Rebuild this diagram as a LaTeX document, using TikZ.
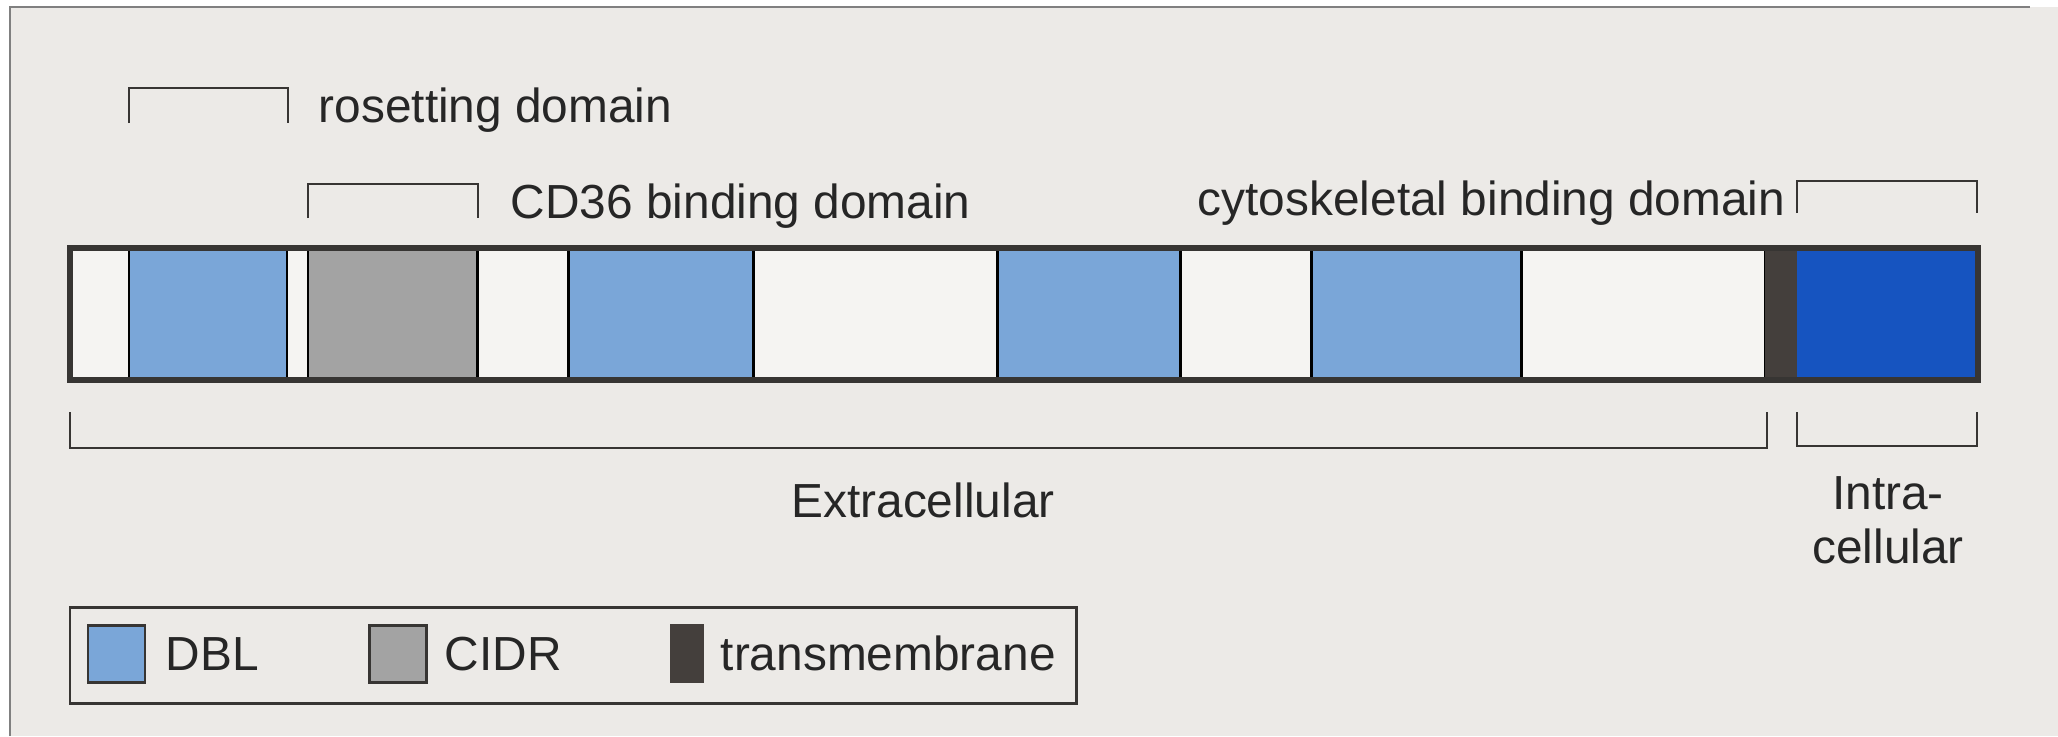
\documentclass[tikz,border=0pt]{standalone}
\usepackage{fontspec}
\setmainfont{Liberation Sans}
\usepackage{xcolor}
\definecolor{pfblue}{RGB}{122,166,216}
\definecolor{pfgray}{RGB}{163,163,163}
\definecolor{pfdark}{RGB}{68,63,60}
\definecolor{pfdeep}{RGB}{22,84,192}
\definecolor{pfwhite}{RGB}{245,244,242}
\definecolor{pfpaper}{RGB}{236,234,231}
\definecolor{pfline}{RGB}{55,53,51}
\usetikzlibrary{positioning}

\begin{document}
\begin{tikzpicture}[x=0.01cm, y=-0.01cm,
    seg/.style={draw=black, line width=0.85pt},
    barline/.style={draw=pfline, line width=1.6pt},
    brk/.style={draw=pfline, line width=0.7pt},
    lbl/.style={inner sep=0pt, text=black!85, font=\fontsize{13.6pt}{16pt}\selectfont},
    swatch/.style={draw=pfline, line width=0.85pt}
  ]
    \useasboundingbox (0,0) rectangle (2058,736);
    % Scanned page
    \fill[pfpaper] (0,0) rectangle (2058,736);
    \fill[white] (0,0) rectangle (2058,7);
    \fill[white] (0,0) rectangle (10,736);
    \draw[gray, line width=0.6pt] (10,736) -- (10,7) -- (2030,7);

    % Protein bar segments
    \draw[seg, fill=pfwhite] (70,248)   rectangle (129,380);
    \draw[seg, fill=pfblue]  (129,248)  rectangle (287,380);
    \draw[seg, fill=pfwhite] (287,248)  rectangle (308,380);
    \draw[seg, fill=pfgray]  (308,248)  rectangle (477,380);
    \draw[seg, fill=pfwhite] (477,248)  rectangle (568,380);
    \draw[seg, fill=pfblue]  (568,248)  rectangle (753,380);
    \draw[seg, fill=pfwhite] (753,248)  rectangle (997,380);
    \draw[seg, fill=pfblue]  (997,248)  rectangle (1180,380);
    \draw[seg, fill=pfwhite] (1180,248) rectangle (1311,380);
    \draw[seg, fill=pfblue]  (1311,248) rectangle (1521,380);
    \draw[seg, fill=pfwhite] (1521,248) rectangle (1765,380);
    \fill[pfdark]            (1765,248) rectangle (1797,380);
    \fill[pfdeep]            (1797,248) rectangle (1978,380);
    \draw[barline] (70,248) rectangle (1978,380);

    % Domain brackets above
    \draw[brk] (129,123) -- (129,88) -- (288,88) -- (288,123);
    \node[lbl, anchor=base west] (roset) at (318,122) {rosetting domain};
    \draw[brk] (308,218) -- (308,184) -- (478,184) -- (478,218);
    \node[lbl, anchor=base west] (cdbind) at (510,218) {CD36 binding domain};
    \draw[brk] (1797,213) -- (1797,181) -- (1977,181) -- (1977,213);
    \node[lbl, anchor=base east] (cytobind) at (1786,215) {cytoskeletal binding domain};

    % Location brackets below
    \draw[brk] (70,412) -- (70,448) -- (1767,448) -- (1767,412);
    \node[lbl, anchor=base] (extra) at (923,517) {Extracellular};
    \draw[brk] (1797,412) -- (1797,446) -- (1977,446) -- (1977,412);
    \node[lbl, anchor=base] (intra)  at (1888,509) {Intra-};
    \node[lbl, anchor=base] (intrab) at (1888,563) {cellular};

    % Legend
    \draw[line width=0.85pt, draw=pfline] (70,607) rectangle (1076,703);
    \draw[swatch, fill=pfblue] (88,625) rectangle (145,682);
    \node[lbl, anchor=base west] (keydbl) at (165,670) {DBL};
    \draw[swatch, fill=pfgray] (369,625) rectangle (426,682);
    \node[lbl, anchor=base west] (keycidr) at (444,670) {CIDR};
    \fill[pfdark] (670,624) rectangle (704,683);
    \node[lbl, anchor=base west] (keytm) at (720,670) {transmembrane};
  \end{tikzpicture}
\end{document}
